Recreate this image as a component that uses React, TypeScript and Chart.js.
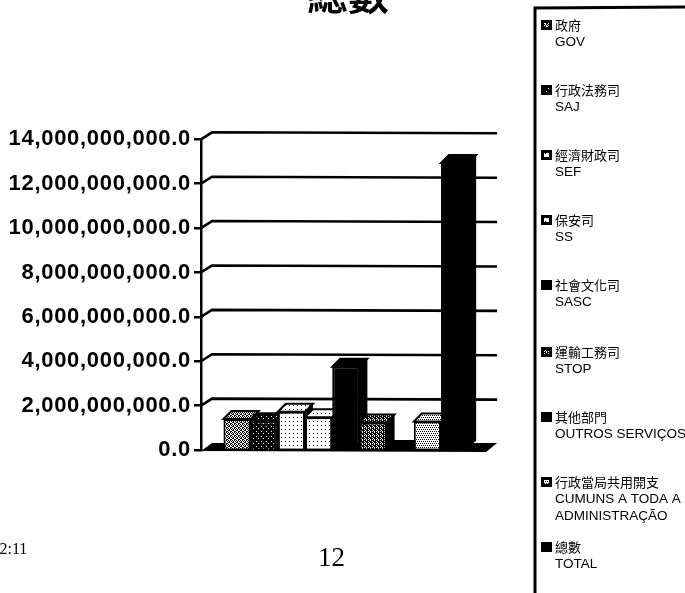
import React, { useEffect, useRef } from "react";
import { Chart, registerables } from "chart.js";

Chart.register(...registerables);

const categories = ["總數"];
const seriesKeys = ["GOV", "SAJ", "SEF", "SS", "SASC", "STOP", "OUTROS", "CUMUNS", "TOTAL"];
const gov = [1.4e9];
const saj = [1.3e9];
const sef = [1.72e9];
const ss = [1.48e9];
const sasc = [3.75e9];
const stop = [1.24e9];
const outros = [0.05e9];
const cumuns = [1.28e9];
const total = [12.93e9];
const seriesValues = [gov, saj, sef, ss, sasc, stop, outros, cumuns, total];
const legendZh = ["政府", "行政法務司", "經濟財政司", "保安司", "社會文化司", "運輸工務司", "其他部門", "行政當局共用開支", "總數"];
const legendPt = [["GOV"], ["SAJ"], ["SEF"], ["SS"], ["SASC"], ["STOP"], ["OUTROS SERVIÇOS"], ["CUMUNS A TODA A", "ADMINISTRAÇÃO"], ["TOTAL"]];
const legendRowY = [25, 90, 155, 220, 285, 352, 417, 482, 547];
const patternKinds = ["dense", "darkDots", "lightDots", "lightDots", "solid", "grey", "solid", "medium", "solid"];

function makePattern(kind: string): CanvasPattern | string {
  if (kind === "solid") return "#000";
  const defs: Record<string, string[]> = {
    dense: ["1010", "0101", "1100", "0011"],
    darkDots: ["11111", "10111", "11111", "11101", "11111"],
    lightDots: ["0000", "0100", "0000", "0000"],
    grey: ["1101", "0111", "1011", "0101"],
    medium: ["0000", "0101", "0000", "1010"],
  };
  const rows = defs[kind];
  const c = document.createElement("canvas");
  c.width = rows[0].length;
  c.height = rows.length;
  const g = c.getContext("2d")!;
  g.fillStyle = "#fff";
  g.fillRect(0, 0, c.width, c.height);
  g.fillStyle = "#000";
  rows.forEach((r, y) => r.split("").forEach((v, x) => { if (v === "1") g.fillRect(x, y, 1, 1); }));
  return g.createPattern(c, "repeat")!;
}

const GRID_DX = 11;
const GRID_DY = 7;
const BAR_DX = 8;
const BAR_DY = 8;

const scenePlugin = {
  id: "scene",
  beforeDraw(chart: any) {
    const { ctx, chartArea: a, scales } = chart;
    const y = scales.y;
    const endX = a.right + 6.5;
    ctx.save();
    ctx.strokeStyle = "#000";
    ctx.lineWidth = 2.6;
    for (let v = 2e9; v <= 14e9; v += 2e9) {
      const py = y.getPixelForValue(v);
      ctx.beginPath();
      ctx.moveTo(a.left, py);
      ctx.lineTo(a.left + GRID_DX, py - GRID_DY);
      ctx.lineTo(endX, py - GRID_DY + 1);
      ctx.stroke();
    }
    const base = y.getPixelForValue(0);
    ctx.fillStyle = "#000";
    ctx.beginPath();
    ctx.moveTo(a.left, base + 1);
    ctx.lineTo(a.left + GRID_DX, base - GRID_DY);
    ctx.lineTo(endX, base - GRID_DY);
    ctx.lineTo(endX - GRID_DX, base + 2);
    ctx.closePath();
    ctx.fill();
    ctx.restore();
    ctx.letterSpacing = "0.7px";
  },
  beforeDatasetsDraw(chart: any) {
    const { ctx } = chart;
    ctx.save();
    chart.data.datasets.forEach((ds: any, i: number) => {
      const bar = chart.getDatasetMeta(i).data[0];
      const half = bar.width / 2;
      const l = bar.x - half;
      const r = bar.x + half;
      const t = bar.y;
      const b = bar.base;
      ctx.fillStyle = "#000";
      ctx.beginPath();
      ctx.moveTo(r - 2, t);
      ctx.lineTo(r + BAR_DX, t - BAR_DY);
      ctx.lineTo(r + BAR_DX, b - BAR_DY);
      ctx.lineTo(r - 2, b);
      ctx.closePath();
      ctx.fill();
      ctx.fillStyle = ds.backgroundColor;
      ctx.strokeStyle = "#000";
      ctx.lineWidth = 2;
      ctx.beginPath();
      ctx.moveTo(l, t);
      ctx.lineTo(l + BAR_DX, t - BAR_DY);
      ctx.lineTo(r + BAR_DX, t - BAR_DY);
      ctx.lineTo(r, t);
      ctx.closePath();
      ctx.fill();
      ctx.stroke();
    });
    ctx.restore();
  },
  afterDraw(chart: any) {
    const { ctx } = chart;
    ctx.letterSpacing = "0px";
    ctx.save();
    ctx.strokeStyle = "#000";
    ctx.lineWidth = 3;
    ctx.beginPath();
    ctx.moveTo(685, 7);
    ctx.lineTo(535, 8);
    ctx.lineTo(535, 593);
    ctx.stroke();
    ctx.textBaseline = "middle";
    chart.data.datasets.forEach((ds: any, i: number) => {
      const ry = legendRowY[i];
      ctx.fillStyle = "#000";
      ctx.fillRect(541, ry - 5, 11, 10);
      ctx.fillStyle = ds.backgroundColor;
      ctx.fillRect(544, ry - 2, 5, 4);
      ctx.fillStyle = "#000";
      ctx.font = '13px "Noto Sans CJK TC"';
      ctx.fillText(legendZh[i], 555, ry);
      ctx.font = '13.5px "Liberation Sans"';
      legendPt[i].forEach((line, k) => ctx.fillText(line, 555, ry + 17 + k * 17.5));
    });
    ctx.restore();
  },
};

export default function App() {
  const ref = useRef<HTMLCanvasElement>(null);
  useEffect(() => {
    const chart = new Chart(ref.current!, {
      type: "bar",
      data: {
        labels: categories,
        datasets: seriesKeys.map((k, i) => ({
          label: k,
          data: seriesValues[i],
          backgroundColor: makePattern(patternKinds[i]),
          borderColor: "#000",
          borderWidth: 2,
        })),
      },
      options: {
        animation: false,
        responsive: false,
        devicePixelRatio: 1,
        categoryPercentage: 0.845,
        barPercentage: 1,
        layout: { padding: { top: 139.3, bottom: 143, right: 194.4, left: 0 } },
        plugins: { legend: { display: false }, title: { display: false }, tooltip: { enabled: false } },
        scales: {
          x: { display: false },
          y: {
            min: 0,
            max: 14e9,
            afterFit: (s: any) => { s.width = 201; },
            border: { display: true, color: "#000", width: 2.5 },
            grid: { drawOnChartArea: false, color: "#000", lineWidth: 2.5, tickLength: 7 },
            ticks: {
              stepSize: 2e9,
              padding: 3,
              color: "#000",
              font: { family: '"Liberation Sans"', weight: "bold", size: 22 },
              callback: (v: any) => Number(v).toLocaleString("en-US", { minimumFractionDigits: 1, maximumFractionDigits: 1 }),
            },
          },
        },
      } as any,
      plugins: [scenePlugin],
    });
    return () => chart.destroy();
  }, []);
  const abs: React.CSSProperties = { position: "absolute", color: "#000", whiteSpace: "nowrap", lineHeight: 1 };
  return (
    <div style={{ position: "fixed", left: 0, top: 0, width: 685, height: 593, overflow: "hidden", background: "#fff" }}>
      <canvas ref={ref} width={685} height={593} style={{ position: "absolute", left: 0, top: 0 }} />
      <div style={{ ...abs, left: 307, top: -28, fontFamily: '"Noto Sans CJK TC"', fontWeight: 700, fontSize: 41 }}>總數</div>
      <div style={{ ...abs, left: -5, top: 541, fontFamily: '"Liberation Serif"', fontSize: 16 }}>/2:11</div>
      <div style={{ ...abs, left: 318, top: 544, fontFamily: '"Liberation Serif"', fontSize: 27 }}>12</div>
    </div>
  );
}
